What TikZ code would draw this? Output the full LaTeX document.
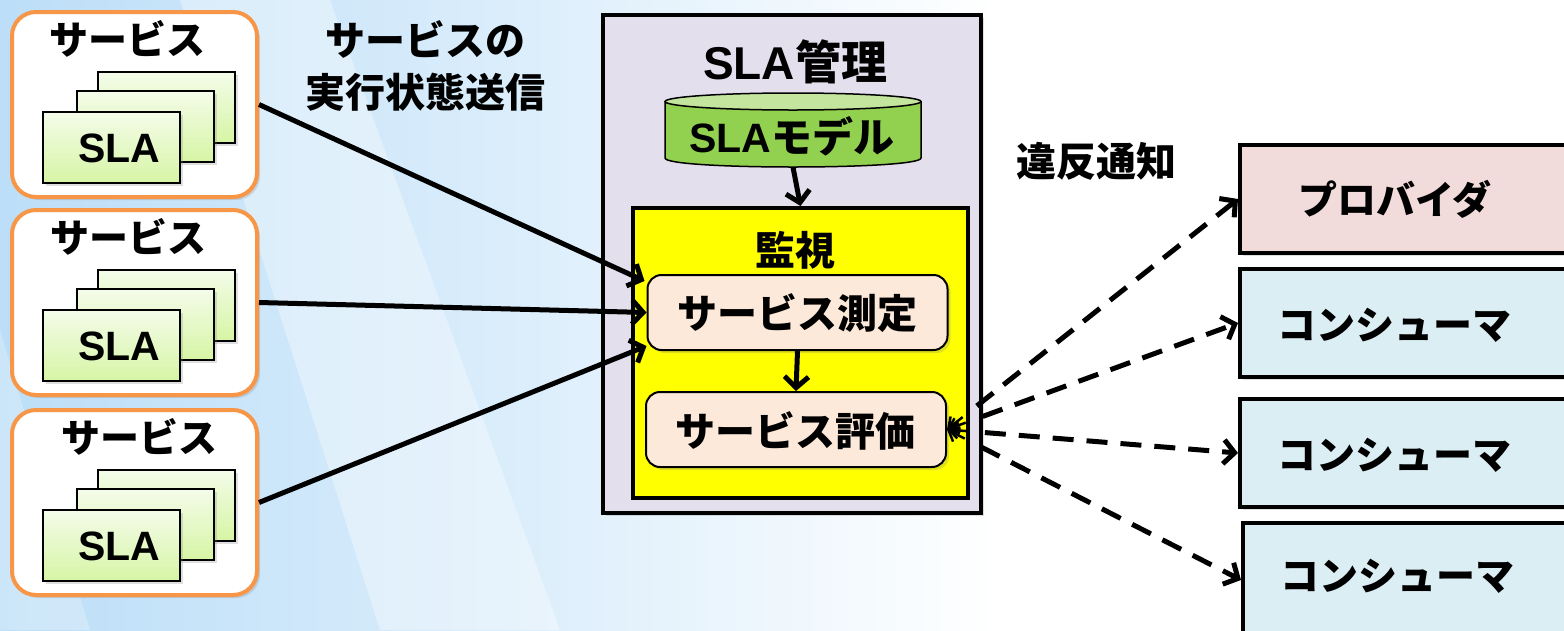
\documentclass[tikz,border=0pt]{standalone}
\usepackage{fontspec}
\setmainfont{Liberation Sans}
\newfontfamily\jp{Noto Sans CJK JP}
\usetikzlibrary{arrows.meta,calc,shadows,fadings}
\definecolor{bgblue}{RGB}{188,222,248}
\definecolor{bgmid}{RGB}{218,237,251}
\definecolor{svcorange}{RGB}{247,150,70}
\definecolor{slatop}{RGB}{244,252,234}
\definecolor{slabot}{RGB}{214,245,164}
\definecolor{lavender}{RGB}{228,223,236}
\definecolor{peach}{RGB}{253,233,217}
\definecolor{cylbody}{RGB}{146,208,80}
\definecolor{cyltop}{RGB}{196,229,158}
\definecolor{provpink}{RGB}{242,220,219}
\definecolor{consblue}{RGB}{219,238,244}
\definecolor{monyellow}{RGB}{255,255,0}
\newcommand{\jt}[1]{{\jp\bfseries #1}}
\begin{document}
\begin{tikzpicture}[x=1pt,y=-1pt,
  shad/.style={drop shadow={opacity=0.25,shadow xshift=3pt,shadow yshift=-3pt}},
  svc/.style={draw=svcorange,line width=4pt,rounded corners=24pt,fill=white,
    minimum width=245pt,minimum height=185pt,inner sep=0pt,shad},
  sla/.style={draw=black,line width=1.6pt,top color=slatop,bottom color=slabot,
    minimum width=137pt,minimum height=71pt,inner sep=0pt,shad},
  slatxt/.style={inner sep=0pt,font=\fontsize{41}{44}\selectfont\bfseries},
  lbl/.style={inner sep=0pt,font=\fontsize{39}{44}\selectfont},
  big/.style={inner sep=0pt,font=\fontsize{40}{50}\selectfont,align=center},
  proc/.style={draw=black,line width=2pt,fill=peach,rounded corners=14pt,
    minimum width=300pt,minimum height=75pt,inner sep=0pt,shad},
  rbox/.style={draw=black,line width=4pt,minimum width=340pt,minimum height=108pt,
    inner sep=0pt,shad},
  conn/.style={line width=5pt,-{Straight Barb[length=11pt,width=24pt]}},
  dconn/.style={line width=5pt,dash pattern=on 21pt off 13pt,-{Straight Barb[length=11pt,width=24pt]}},
  tip/.style={line width=2.5pt,{Straight Barb[length=9pt,width=16pt]}-}
]
\useasboundingbox (0,0) rectangle (1564,630);
% background
\fill[white] (0,0) rectangle (1564,630);
\shade[left color=bgblue,right color=white,middle color=bgmid] (0,0) rectangle (1000,630);
\fill[white,opacity=0.35] (180,0) -- (330,0) -- (560,630) -- (380,630) -- cycle;
\fill[white,opacity=0.25] (0,330) -- (90,630) -- (0,630) -- cycle;

% service boxes
\foreach \i/\dy/\lx in {1/0/127,2/198/128,3/398/139}{
  \node[svc] (s\i) at (134.5,104.5+\dy) {};
  \node[lbl] (sl\i) at (\lx,39+\dy) {\jt{サービス}};
  \node[sla] (b\i) at (166.5,107.5+\dy) {};
  \node[sla] (m\i) at (145.5,126.5+\dy) {};
  \node[sla] (f\i) at (111.5,147.5+\dy) {};
  \node[slatxt] (ft\i) at (119,148+\dy) {SLA};
}

\node[big] (sendlbl) at (425,66) {\jt{サービスの}\\[2pt]\jt{実行状態送信}};

% SLA management
\node[draw=black,line width=4pt,fill=lavender,minimum width=378pt,minimum height=498pt,inner sep=0pt,shad] (mgmt) at (792,264) {};
\node[inner sep=0pt,font=\fontsize{46}{50}\selectfont] (mgmtl) at (795,62) {\bfseries SLA\jt{管理}};

% cylinder
\node[minimum width=256pt,minimum height=74pt,inner sep=0pt] (model) at (793,130) {};
\fill[cylbody] (665,101.5) rectangle (921,158);
\fill[cylbody] (665,158) .. controls (665,170) and (921,170) .. (921,158) -- cycle;
\draw[line width=1.5pt] (665,101.5) -- (665,158) .. controls (665,170) and (921,170) .. (921,158) -- (921,101.5);
\draw[line width=1.5pt,fill=cyltop] (793,101.5) ellipse [x radius=128, y radius=8.5];
\node[inner sep=0pt,font=\fontsize{41}{46}\selectfont] (modell) at (792,136) {\bfseries SLA\jt{モデル}};

% monitor
\node[draw=black,line width=4pt,fill=monyellow,minimum width=335pt,minimum height=290pt,inner sep=0pt] (mon) at (800.5,353) {};
\node[inner sep=0pt,font=\fontsize{40}{44}\selectfont] (monl) at (795,250) {\jt{監視}};
\node[proc] (meas) at (797.5,312.5) {};
\node[inner sep=0pt,font=\fontsize{40}{44}\selectfont] (measl) at (797,313) {\jt{サービス測定}};
\node[proc] (eval) at (796,429.5) {};
\node[inner sep=0pt,font=\fontsize{40}{44}\selectfont] (evall) at (795,431) {\jt{サービス評価}};

\draw[conn] (model.south) -- (mon.north);
\draw[conn] (meas.south) -- (eval.north);

% service to measure
\draw[conn] (s1.east) -- ($(meas.north west)+(-2,7)$);
\draw[conn] (s2.east) -- (meas.west);
\draw[conn] (s3.east) -- ($(meas.south west)+(0,-5)$);

% right boxes
\node[rbox,fill=provpink] (prov) at (1410,199) {};
\node[rbox,fill=consblue] (c1) at (1410,323) {};
\node[rbox,fill=consblue] (c2) at (1410,453) {};
\node[rbox,fill=consblue,minimum height=115pt] (c3) at (1413,580) {};
\node[lbl] (provl) at (1395,199) {\jt{プロバイダ}};
\node[lbl] (c1l) at (1394,325) {\jt{コンシューマ}};
\node[lbl] (c2l) at (1394,455) {\jt{コンシューマ}};
\node[lbl] (c3l) at (1397,576) {\jt{コンシューマ}};
\node[inner sep=0pt,font=\fontsize{40}{44}\selectfont] (viol) at (1096,161) {\jt{違反通知}};

% notifications
\foreach \t in {prov,c1,c2,c3}{
  \draw[dconn] ($(eval.east)!38pt!(\t.west)$) -- (\t.west);
  \draw[tip] (eval.east) -- ($(eval.east)!20pt!(\t.west)$);
}
\end{tikzpicture}
\end{document}
